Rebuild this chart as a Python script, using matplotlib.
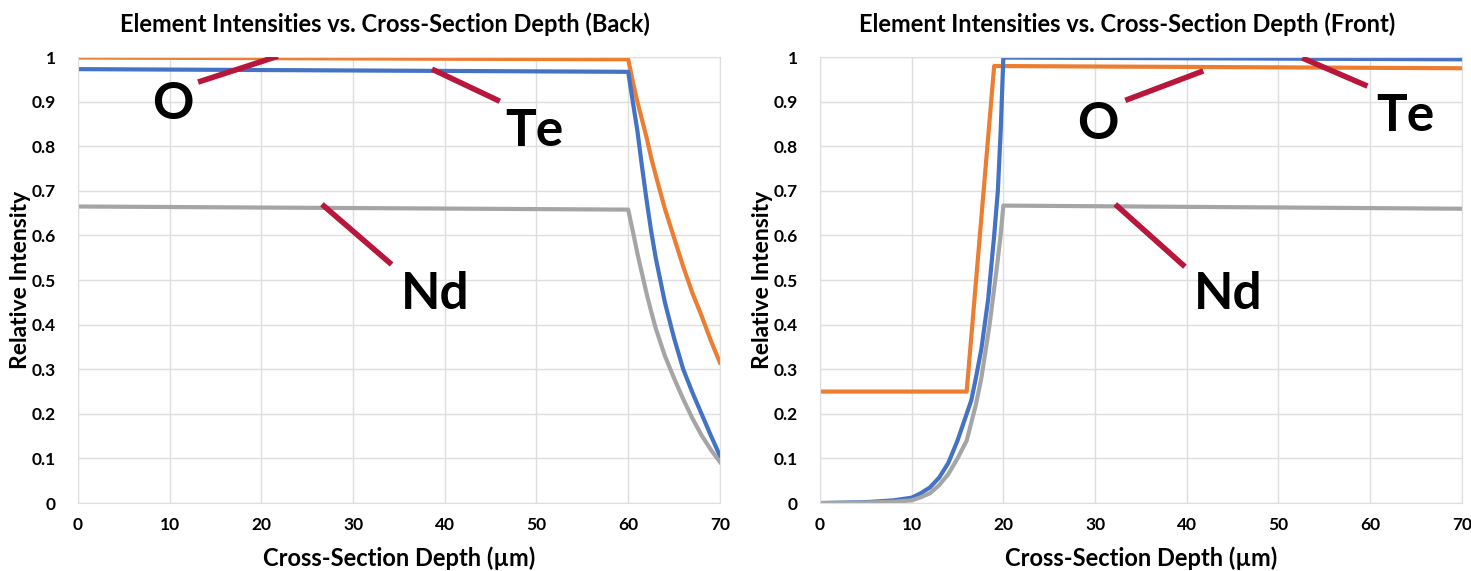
import matplotlib.pyplot as plt

# ---- Back panel data (depth in um, relative intensity) ----
back_depth = [0, 60, 60.5, 61, 61.5, 62, 62.5, 63, 64, 65, 66, 67, 68, 69, 70]
back_o = [0.999, 0.995, 0.945, 0.90, 0.86, 0.82, 0.775, 0.735, 0.66, 0.595, 0.53, 0.471,
          0.42, 0.365, 0.315]
back_te = [0.973, 0.967, 0.90, 0.835, 0.755, 0.68, 0.61, 0.55, 0.45, 0.37, 0.30, 0.248,
           0.20, 0.152, 0.106]
back_nd = [0.665, 0.658, 0.61, 0.56, 0.515, 0.47, 0.43, 0.392, 0.33, 0.28, 0.233, 0.19,
           0.152, 0.12, 0.092]

# ---- Front panel data ----
front_o_depth = [0, 16, 19, 70]
front_o = [0.25, 0.25, 0.98, 0.975]
front_depth = [0, 5, 8, 10, 11, 12, 13, 14, 15, 16, 16.5, 17, 17.6, 18.35, 19, 19.4, 19.7, 20, 70]
front_te = [0.0, 0.002, 0.006, 0.012, 0.022, 0.035, 0.057, 0.09, 0.14, 0.20, 0.23, 0.28, 0.345,
            0.458, 0.60, 0.70, 0.83, 0.999, 0.995]
front_nd_depth = [0, 5, 8, 10, 11, 12, 13, 14, 15, 16, 16.5, 17, 17.6, 18.5, 19.3, 19.7, 20, 70]
front_nd = [0.0, 0.001, 0.003, 0.006, 0.013, 0.022, 0.04, 0.065, 0.10, 0.14, 0.18, 0.22, 0.28,
            0.40, 0.53, 0.60, 0.667, 0.66]

titles = ["Element Intensities vs. Cross-Section Depth (Back)",
          "Element Intensities vs. Cross-Section Depth (Front)"]

# annotation: label, text position, line start, line end (data coords)
back_labels = [("O", (10.3, 0.894), (13.1, 0.944), (21.8, 1.002)),
               ("Te", (49.8, 0.834), (38.6, 0.973), (46.0, 0.901)),
               ("Nd", (39.0, 0.467), (26.6, 0.670), (34.2, 0.535))]
front_labels = [("O", (30.3, 0.849), (33.3, 0.903), (41.8, 0.969)),
                ("Te", (63.8, 0.867), (52.6, 0.998), (59.7, 0.935)),
                ("Nd", (44.5, 0.467), (32.2, 0.670), (39.8, 0.530))]

ORANGE = "#ED7D31"
BLUE = "#4472C4"
GRAY = "#A5A5A5"
RED = "#B8163B"

plt.rcParams["font.family"] = ["Lato", "DejaVu Sans"]

fig = plt.figure(figsize=(14.71, 5.71), dpi=100)
ax1 = fig.add_axes([0.053, 0.119, 0.4364, 0.781])
ax2 = fig.add_axes([0.5574, 0.119, 0.4364, 0.781])


def style_axes(ax, title):
    ax.set_xlim(0, 70)
    ax.set_ylim(0, 1)
    ax.set_xticks(range(0, 71, 10))
    ax.set_yticks([i / 10 for i in range(11)])
    ax.set_yticklabels(["0"] + [f"{i / 10:.1f}" for i in range(1, 10)] + ["1"])
    ax.grid(True, color="#dedede", linewidth=1)
    ax.set_axisbelow(True)
    for s in ax.spines.values():
        s.set_color("#dedede")
    ax.tick_params(length=0, labelsize=12.5)
    ax.tick_params(axis="x", pad=10)
    ax.tick_params(axis="y", pad=16)
    for lbl in ax.get_xticklabels() + ax.get_yticklabels():
        lbl.set_fontweight("bold")
    ax.set_title(title, fontsize=17, fontweight="bold", pad=18, x=0.478)
    ax.set_xlabel("Cross-Section Depth (µm)", fontsize=17, fontweight="bold", labelpad=10)
    ax.set_ylabel("Relative Intensity", fontsize=16.5, fontweight="bold", labelpad=0)


def add_labels(ax, labels):
    for text, tpos, p0, p1 in labels:
        ax.plot([p0[0], p1[0]], [p0[1], p1[1]], color=RED, linewidth=4,
                solid_capstyle="butt", zorder=5)
        ax.text(tpos[0], tpos[1], text, fontsize=37, fontweight="bold",
                ha="center", va="center", zorder=6)


lw = 3
ax1.plot(back_depth, back_o, color=ORANGE, linewidth=lw)
ax1.plot(back_depth, back_te, color=BLUE, linewidth=lw)
ax1.plot(back_depth, back_nd, color=GRAY, linewidth=lw)
style_axes(ax1, titles[0])
add_labels(ax1, back_labels)

ax2.plot(front_o_depth, front_o, color=ORANGE, linewidth=lw)
ax2.plot(front_depth, front_te, color=BLUE, linewidth=lw)
ax2.plot(front_nd_depth, front_nd, color=GRAY, linewidth=lw)
style_axes(ax2, titles[1])
add_labels(ax2, front_labels)

fig.savefig("out.png", dpi=100)
